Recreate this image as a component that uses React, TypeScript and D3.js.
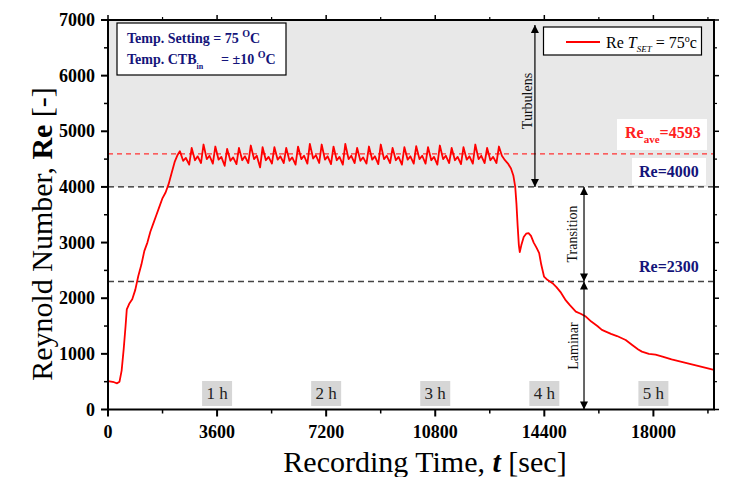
import React from "react";
import * as d3 from "d3";

const W = 732;
const H = 477;
const M = { l: 108, r: 18, t: 20, b: 67 };

const xDomain: [number, number] = [0, 20000];
const yDomain: [number, number] = [0, 7000];
const xTicks = [0, 3600, 7200, 10800, 14400, 18000];
const xMinor = [1800, 5400, 9000, 12600, 16200, 19800];
const yTicks = [0, 1000, 2000, 3000, 4000, 5000, 6000, 7000];
const yMinor = [500, 1500, 2500, 3500, 4500, 5500, 6500];

const hourLabels = ["1 h", "2 h", "3 h", "4 h", "5 h"];
const hourTimes = [3600, 7200, 10800, 14400, 18000];

const reAve = 4593;
const reTurb = 4000;
const reLam = 2300;

// Re vs time (sec)
const series: [number, number][] = [
  [0, 510], [100, 500], [200, 490], [300, 470], [380, 500], [450, 700], [520, 1100], [580, 1500], [620, 1800],
  [700, 1900], [800, 1980], [900, 2150], [1000, 2400], [1100, 2600], [1200, 2850], [1300, 3000], [1400, 3200],
  [1500, 3350], [1600, 3500], [1700, 3650], [1800, 3800], [1900, 3900], [2000, 4050], [2100, 4250], [2200, 4450],
  [2300, 4580],
  [2372, 4643], [2480, 4470], [2570, 4520], [2680, 4400],
  [2762, 4702], [2870, 4480], [2960, 4550], [3070, 4430],
  [3152, 4762], [3260, 4500], [3350, 4560], [3460, 4420],
  [3542, 4726], [3650, 4490], [3740, 4540], [3850, 4380],
  [3932, 4684], [4040, 4470], [4130, 4530], [4240, 4410],
  [4322, 4702], [4430, 4480], [4520, 4550], [4630, 4430],
  [4712, 4744], [4820, 4500], [4910, 4560], [5020, 4350],
  [5102, 4714], [5210, 4480], [5300, 4540], [5410, 4420],
  [5492, 4714], [5600, 4490], [5690, 4550], [5800, 4430],
  [5882, 4702], [5990, 4470], [6080, 4530], [6190, 4400],
  [6272, 4726], [6380, 4500], [6470, 4560], [6580, 4420],
  [6662, 4774], [6770, 4510], [6860, 4570], [6970, 4430],
  [7052, 4762], [7160, 4490], [7250, 4550], [7360, 4410],
  [7442, 4726], [7550, 4480], [7640, 4540], [7750, 4400],
  [7832, 4774], [7940, 4500], [8030, 4560], [8140, 4430],
  [8222, 4702], [8330, 4470], [8420, 4530], [8530, 4420],
  [8612, 4726], [8720, 4490], [8810, 4550], [8920, 4410],
  [9002, 4762], [9110, 4500], [9200, 4560], [9310, 4430],
  [9392, 4702], [9500, 4480], [9590, 4540], [9700, 4400],
  [9782, 4714], [9890, 4490], [9980, 4550], [10090, 4420],
  [10172, 4732], [10280, 4500], [10370, 4560], [10480, 4420],
  [10562, 4714], [10670, 4480], [10760, 4540], [10870, 4400],
  [10952, 4744], [11060, 4500], [11150, 4560], [11260, 4430],
  [11342, 4702], [11450, 4480], [11540, 4540], [11650, 4410],
  [11732, 4714], [11840, 4490], [11930, 4550], [12040, 4420],
  [12122, 4762], [12230, 4500], [12320, 4560], [12430, 4430],
  [12512, 4702], [12620, 4480], [12710, 4540], [12820, 4430],
  [12902, 4726], [13000, 4560], [13100, 4480], [13200, 4420], [13300, 4330], [13380, 4200], [13440, 4000],
  [13480, 3700], [13520, 3300], [13560, 2950], [13590, 2830], [13640, 2950], [13720, 3100], [13800, 3160],
  [13880, 3170], [13960, 3120], [14050, 3000], [14150, 2900], [14230, 2810], [14300, 2600], [14390, 2390],
  [14500, 2330], [14670, 2270], [14800, 2200], [14950, 2100], [15110, 1960], [15250, 1870], [15440, 1760],
  [15600, 1720], [15770, 1670], [15950, 1580], [16150, 1500], [16300, 1430], [16430, 1400], [16600, 1360],
  [16800, 1320], [17085, 1250], [17300, 1160], [17500, 1080], [17620, 1040], [17850, 1000], [18070, 985],
  [18300, 950], [18600, 900], [18900, 860], [19200, 820], [19500, 780], [19800, 740], [20000, 710],
];

const NAVY = "#14147a";
const SERIF = "'Liberation Serif', 'Times New Roman', serif";

export default function App() {
  const x = d3.scaleLinear().domain(xDomain).range([M.l, W - M.r]);
  const y = d3.scaleLinear().domain(yDomain).range([H - M.b - 0.5, M.t]);
  const line = d3
    .line<[number, number]>()
    .x((d) => x(d[0]))
    .y((d) => y(d[1]));

  const x0 = x(xDomain[0]);
  const x1 = x(xDomain[1]);
  const yb = y(yDomain[0]);
  const yt = y(yDomain[1]);

  const turbX = x(14090);
  const zoneX = x(15710);

  return (
    <div style={{ position: "absolute", left: 0, top: 0 }}>
      <svg width={W} height={H} style={{ display: "block", fontFamily: SERIF }}>
        <defs>
          <marker id="ah" viewBox="0 0 10 10" refX="10" refY="5" markerWidth="10" markerHeight="8"
            markerUnits="userSpaceOnUse" orient="auto-start-reverse">
            <path d="M0,0 L10,5 L0,10 Z" fill="#000" />
          </marker>
          <clipPath id="plot">
            <rect x={x0} y={yt} width={x1 - x0} height={yb - yt} />
          </clipPath>
        </defs>
        <rect width={W} height={H} fill="#fff" />
        {/* turbulent zone shading */}
        <rect x={x0} y={yt} width={x1 - x0} height={y(reTurb) - yt} fill="#e8e8e8" />

        {/* hour boxes */}
        {hourLabels.map((h, i) => (
          <g key={h}>
            <rect x={x(hourTimes[i]) - 15} y={381} width={30} height={25} fill="#d6d6d6" />
            <text x={x(hourTimes[i])} y={399} textAnchor="middle" fontSize={17} fill="#222">{h}</text>
          </g>
        ))}

        {/* reference lines */}
        <line x1={x0} x2={x1} y1={y(reAve)} y2={y(reAve)} stroke="#ff3030" strokeWidth={1.2} strokeDasharray="5,4" />
        <line x1={x0} x2={x1} y1={y(reTurb)} y2={y(reTurb)} stroke="#222" strokeWidth={1.3} strokeDasharray="6,4" />
        <line x1={x0} x2={x1} y1={y(reLam)} y2={y(reLam)} stroke="#444" strokeWidth={1.3} strokeDasharray="6,4" />

        {/* labels for reference lines */}
        <rect x={617} y={119} width={90} height={31} fill="#fff" />
        <rect x={632} y={158} width={74} height={27} fill="#fff" />
        <text x={625} y={138} fontSize={16} fontWeight="bold" fill="#ff2020">
          Re<tspan fontSize={11} dy={5}>ave</tspan><tspan dy={-5}>={reAve}</tspan>
        </text>
        <text x={639} y={177} fontSize={16} fontWeight="bold" fill={NAVY}>Re={reTurb}</text>
        <text x={639} y={272} fontSize={16} fontWeight="bold" fill={NAVY}>Re={reLam}</text>

        {/* data */}
        <path d={line(series) || ""} fill="none" stroke="#ff0000" strokeWidth={1.8} clipPath="url(#plot)" strokeLinejoin="round" />

        {/* zone arrows */}
        <line x1={turbX} x2={turbX} y1={25} y2={y(reTurb)} stroke="#000" strokeWidth={1.2}
          markerStart="url(#ah)" markerEnd="url(#ah)" />
        <line x1={zoneX} x2={zoneX} y1={y(reTurb)} y2={y(reLam)} stroke="#000" strokeWidth={1.2}
          markerStart="url(#ah)" markerEnd="url(#ah)" />
        <line x1={zoneX} x2={zoneX} y1={y(reLam)} y2={yb} stroke="#000" strokeWidth={1.2}
          markerStart="url(#ah)" markerEnd="url(#ah)" />
        <text transform={`translate(532,101) rotate(-90)`} textAnchor="middle" fontSize={14} fill="#111">Turbulens</text>
        <text transform={`translate(577,234) rotate(-90)`} textAnchor="middle" fontSize={14} fill="#111">Transition</text>
        <text transform={`translate(578,346) rotate(-90)`} textAnchor="middle" fontSize={14} fill="#111">Laminar</text>

        {/* info box */}
        <rect x={117} y={23} width={169} height={52} fill="#fff" stroke="#000" strokeWidth={1.2} />
        <text x={127} y={43} fontSize={14} fontWeight="bold" fill={NAVY}>
          Temp. Setting = 75 <tspan fontSize={10} dy={-6}>O</tspan><tspan dy={6}>C</tspan>
        </text>
        <text x={127} y={64} fontSize={14} fontWeight="bold" fill={NAVY}>
          Temp. CTB<tspan fontSize={8} dy={5}>in</tspan>
          <tspan x={221} dy={-5}>= ±10 </tspan><tspan fontSize={10} dy={-6}>O</tspan><tspan dy={6}>C</tspan>
        </text>

        {/* legend */}
        <rect x={543.5} y={27} width={158} height={28} fill="#fff" stroke="#000" strokeWidth={1.2} />
        <line x1={566} x2={600} y1={42} y2={42} stroke="#ff0000" strokeWidth={1.8} />
        <text x={606} y={48} fontSize={16} fill="#000">
          Re <tspan fontStyle="italic">T</tspan><tspan fontStyle="italic" fontSize={9} dy={4}>SET</tspan>
          <tspan dy={-4}> = 75</tspan><tspan fontSize={10} dy={-6}>o</tspan><tspan dy={6}>c</tspan>
        </text>

        {/* frame */}
        <rect x={x0} y={yt} width={x1 - x0} height={yb - yt} fill="none" stroke="#000" strokeWidth={2} />

        {/* x ticks bottom & top */}
        {xTicks.map((t) => (
          <g key={"xt" + t}>
            <line x1={x(t)} x2={x(t)} y1={yb} y2={yb + 7} stroke="#000" strokeWidth={2} />
            <line x1={x(t)} x2={x(t)} y1={yt} y2={yt - 5} stroke="#000" strokeWidth={1.5} />
            <text x={x(t)} y={438} textAnchor="middle" fontSize={18} fontWeight="bold">{t}</text>
          </g>
        ))}
        {xMinor.map((t) => (
          <g key={"xm" + t}>
            <line x1={x(t)} x2={x(t)} y1={yb} y2={yb + 4} stroke="#000" strokeWidth={1.5} />
            <line x1={x(t)} x2={x(t)} y1={yt} y2={yt - 3} stroke="#000" strokeWidth={1.2} />
          </g>
        ))}

        {/* y ticks left & right */}
        {yTicks.map((t) => (
          <g key={"yt" + t}>
            <line x1={x0} x2={x0 - 7} y1={y(t)} y2={y(t)} stroke="#000" strokeWidth={2} />
            <line x1={x1} x2={x1 + 5} y1={y(t)} y2={y(t)} stroke="#000" strokeWidth={1.5} />
            <text x={95} y={y(t) + 6} textAnchor="end" fontSize={18} fontWeight="bold">{t}</text>
          </g>
        ))}
        {yMinor.map((t) => (
          <g key={"ym" + t}>
            <line x1={x0} x2={x0 - 4} y1={y(t)} y2={y(t)} stroke="#000" strokeWidth={1.5} />
            <line x1={x1} x2={x1 + 3} y1={y(t)} y2={y(t)} stroke="#000" strokeWidth={1.2} />
          </g>
        ))}

        {/* axis titles */}
        <text x={425} y={472} textAnchor="middle" fontSize={30}>
          Recording Time, <tspan fontWeight="bold" fontStyle="italic">t</tspan> [sec]
        </text>
        <text transform={`translate(52,234) rotate(-90)`} textAnchor="middle" fontSize={30}>
          Reynold Number, <tspan fontWeight="bold">Re</tspan> [-]
        </text>
      </svg>
    </div>
  );
}
